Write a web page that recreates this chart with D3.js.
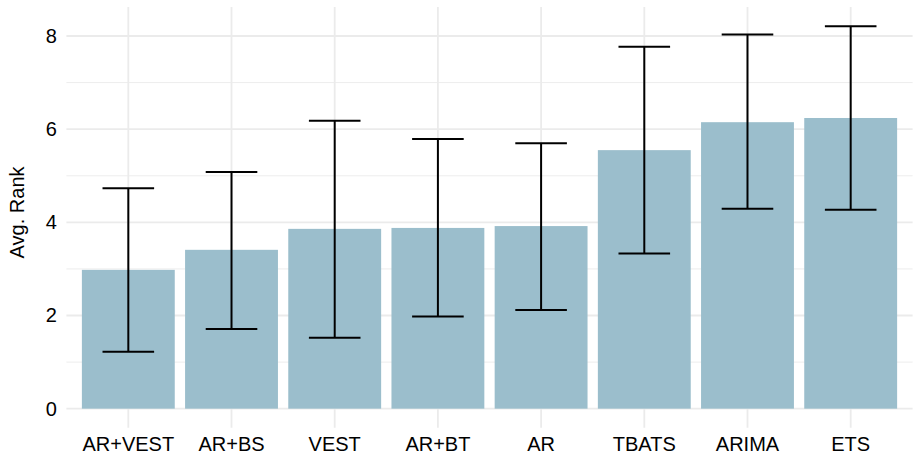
<!DOCTYPE html>
<html>
<head>
<meta charset="utf-8">
<script src="https://cdn.jsdelivr.net/npm/d3@7"></script>
<style>
  html, body { margin: 0; padding: 0; background: #ffffff; }
  svg { display: block; }
  text { font-family: "Liberation Sans", Arial, Helvetica, sans-serif; fill: #000; }
</style>
</head>
<body>
<svg id="chart" width="914" height="455"></svg>
<script>
// Average rank per forecasting method, with lower/upper error bounds
const methods = ["AR+VEST", "AR+BS", "VEST", "AR+BT", "AR", "TBATS", "ARIMA", "ETS"];
const avgRank = [2.98, 3.41, 3.86, 3.88, 3.92, 5.55, 6.15, 6.24];
const lowerRank = [1.22, 1.71, 1.52, 1.98, 2.12, 3.33, 4.29, 4.27];
const upperRank = [4.73, 5.08, 6.18, 5.79, 5.70, 7.77, 8.03, 8.21];
const yTicks = [0, 2, 4, 6, 8];
const yMinorTicks = [1, 3, 5, 7];
const yTitle = "Avg. Rank";

const rows = methods.map((m, i) => ({ m, v: avgRank[i], lo: lowerRank[i], hi: upperRank[i] }));

const svg = d3.select("#chart");
const panel = { left: 66.4, right: 912.6, top: 7.1, bottom: 427.8 };
const fontSize = "20px";

const x = d3.scaleBand()
  .domain(methods)
  .range([panel.left, panel.right])
  .paddingInner(0.1)
  .paddingOuter(0.15);

// 5% expansion on both ends, as in the usual bar-chart layout
const yMax = d3.max(upperRank);
const pad = yMax * 0.05;
const y = d3.scaleLinear()
  .domain([-pad, yMax + pad])
  .range([panel.bottom, panel.top]);

const grid = svg.append("g");
// minor horizontal grid
grid.selectAll("line.minor").data(yMinorTicks).join("line")
  .attr("x1", panel.left).attr("x2", panel.right)
  .attr("y1", d => y(d)).attr("y2", d => y(d))
  .attr("stroke", "#ebebeb").attr("stroke-width", 0.9);
// major horizontal grid
grid.selectAll("line.majorY").data(yTicks).join("line")
  .attr("x1", panel.left).attr("x2", panel.right)
  .attr("y1", d => y(d)).attr("y2", d => y(d))
  .attr("stroke", "#ebebeb").attr("stroke-width", 1.8);
// vertical grid at each category
grid.selectAll("line.majorX").data(methods).join("line")
  .attr("x1", d => x(d) + x.bandwidth() / 2).attr("x2", d => x(d) + x.bandwidth() / 2)
  .attr("y1", panel.top).attr("y2", panel.bottom)
  .attr("stroke", "#ebebeb").attr("stroke-width", 1.8);

// bars
svg.append("g").selectAll("rect").data(rows).join("rect")
  .attr("x", d => x(d.m))
  .attr("width", x.bandwidth())
  .attr("y", d => y(d.v))
  .attr("height", d => y(0) - y(d.v))
  .attr("fill", "#9bbecc");

// error bars
const capHalf = x.step() * 0.25;
const eb = svg.append("g").attr("stroke", "#000").attr("stroke-width", 2).attr("fill", "none");
rows.forEach(d => {
  const cx = x(d.m) + x.bandwidth() / 2;
  eb.append("line").attr("x1", cx).attr("x2", cx).attr("y1", y(d.lo)).attr("y2", y(d.hi));
  eb.append("line").attr("x1", cx - capHalf).attr("x2", cx + capHalf).attr("y1", y(d.hi)).attr("y2", y(d.hi));
  eb.append("line").attr("x1", cx - capHalf).attr("x2", cx + capHalf).attr("y1", y(d.lo)).attr("y2", y(d.lo));
});

// y axis (labels only)
const yAxis = svg.append("g")
  .attr("transform", `translate(${panel.left},0)`)
  .call(d3.axisLeft(y).tickValues(yTicks).tickSize(0).tickPadding(9.5).tickFormat(d3.format("d")));
yAxis.select(".domain").remove();
yAxis.selectAll("text").style("font-size", fontSize).attr("fill", "#000")
  .attr("font-family", "Liberation Sans, Arial, sans-serif");

// x axis (labels only)
const xAxis = svg.append("g")
  .attr("transform", `translate(0,${panel.bottom})`)
  .call(d3.axisBottom(x).tickSize(0).tickPadding(9));
xAxis.select(".domain").remove();
xAxis.selectAll("text").style("font-size", fontSize).attr("fill", "#000")
  .attr("font-family", "Liberation Sans, Arial, sans-serif");

// y axis title
svg.append("text")
  .attr("transform", `translate(23.5,${(panel.top + panel.bottom) / 2 - 5}) rotate(-90)`)
  .attr("text-anchor", "middle")
  .style("font-size", fontSize)
  .text(yTitle);
</script>
</body>
</html>
